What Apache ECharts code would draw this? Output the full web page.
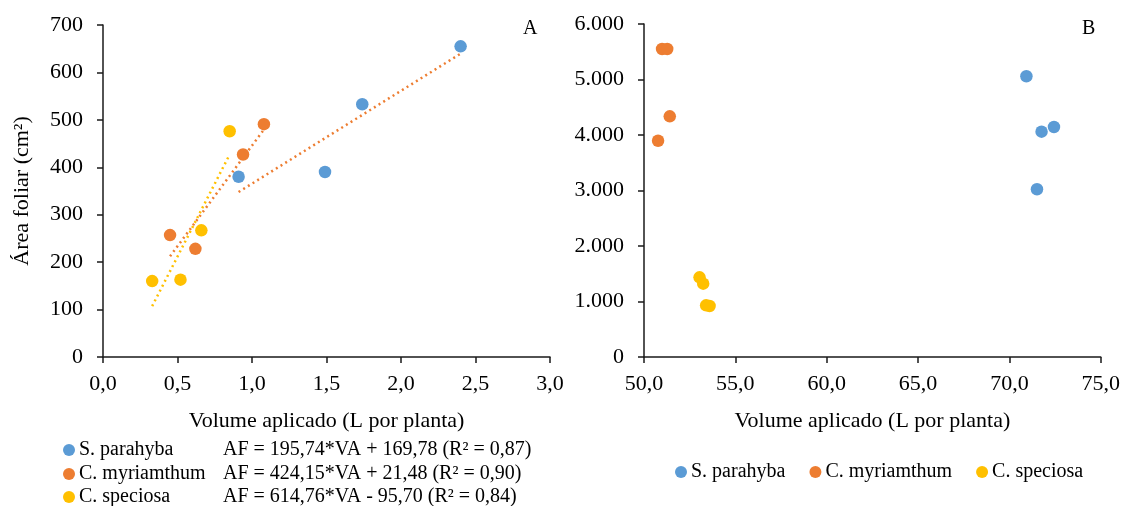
<!DOCTYPE html>
<html>
<head>
<meta charset="utf-8">
<script src="https://cdn.jsdelivr.net/npm/echarts@6/dist/echarts.min.js"></script>
<style>
  html, body { margin: 0; padding: 0; background: #fff; }
  #chart { width: 1123px; height: 506px; }
</style>
</head>
<body>
<div id="chart"></div>
<script>
// espécies e cores
const speciesNames = ['S. parahyba', 'C. myriamthum', 'C. speciosa'];
const speciesColors = ['#5B9BD5', '#ED7D31', '#FFC000'];

// painel A: volume aplicado (L por planta) x área foliar (cm²)
const aVolParahyba = [0.91, 1.49, 1.74, 2.40];
const aAreaParahyba = [380, 390, 533, 655];
const aVolMyriamthum = [0.45, 0.62, 0.94, 1.08];
const aAreaMyriamthum = [257, 228, 427, 491];
const aVolSpeciosa = [0.33, 0.52, 0.66, 0.85];
const aAreaSpeciosa = [160, 163, 267, 476];

// regressões lineares do painel A
const trendSlope = [195.74, 424.15, 614.76];
const trendIntercept = [169.78, 21.48, -95.70];
const trendColors = ['#ED7D31', '#ED7D31', '#FFC000'];
const trendText = [
  'AF = 195,74*VA + 169,78 (R² = 0,87)',
  'AF = 424,15*VA + 21,48 (R² = 0,90)',
  'AF = 614,76*VA - 95,70 (R² = 0,84)'
];

// painel B
const bVolParahyba = [70.93, 71.76, 72.44, 71.51];
const bAreaParahyba = [5058, 4060, 4144, 3022];
const bVolMyriamthum = [50.77, 50.99, 51.27, 51.41];
const bAreaMyriamthum = [3897, 5550, 5550, 4337];
const bVolSpeciosa = [53.04, 53.24, 53.40, 53.59];
const bAreaSpeciosa = [1436, 1321, 931, 919];

// eixos (min, max, intervalo)
const aXTicks = [0, 3, 0.5];
const aYTicks = [0, 700, 100];
const bXTicks = [50, 75, 5];
const bYTicks = [0, 6000, 1000];

const FONT = '"Liberation Serif", "Times New Roman", serif';
const AXIS_COLOR = '#1a1a1a';

function pairs(xs, ys) {
  return xs.map((x, i) => [x, ys[i]]);
}

function decimalComma(v) {
  return v.toFixed(1).replace('.', ',');
}

function thousandDot(v) {
  if (v < 1000) return String(v);
  let s = String(Math.round(v));
  return s.slice(0, s.length - 3) + '.' + s.slice(s.length - 3);
}

function makeAxis(ticks, grid, formatter, margin, name, nameGap) {
  return {
    type: 'value',
    gridIndex: grid,
    min: ticks[0],
    max: ticks[1],
    interval: ticks[2],
    name: name,
    nameLocation: 'middle',
    nameGap: nameGap,
    nameTextStyle: { fontFamily: FONT, fontSize: 22, color: '#000' },
    axisLine: { show: true, onZero: false, lineStyle: { color: AXIS_COLOR, width: 1.5 } },
    axisTick: { show: true, length: 6, lineStyle: { color: AXIS_COLOR, width: 1.5 } },
    axisLabel: { fontFamily: FONT, fontSize: 22, color: '#000', margin: margin, formatter: formatter },
    splitLine: { show: false }
  };
}

function makeLegend(names, left, top, orient) {
  return {
    orient: orient, left: left, top: top, padding: 0, itemGap: 24,
    icon: 'circle', itemWidth: 12, itemHeight: 12,
    data: names,
    textStyle: { fontFamily: FONT, fontSize: 20, color: '#000', padding: [0, 0, 0, -1] },
    selectedMode: false
  };
}

const aData = [
  pairs(aVolParahyba, aAreaParahyba),
  pairs(aVolMyriamthum, aAreaMyriamthum),
  pairs(aVolSpeciosa, aAreaSpeciosa)
];
const bData = [
  pairs(bVolParahyba, bAreaParahyba),
  pairs(bVolMyriamthum, bAreaMyriamthum),
  pairs(bVolSpeciosa, bAreaSpeciosa)
];

let series = [];
// linhas de tendência: do menor ao maior volume de cada espécie
aData.forEach((pts, i) => {
  const xs = pts.map(p => p[0]);
  const x0 = Math.min(...xs), x1 = Math.max(...xs);
  series.push({
    type: 'line',
    xAxisIndex: 0, yAxisIndex: 0,
    data: [[x0, trendSlope[i] * x0 + trendIntercept[i]], [x1, trendSlope[i] * x1 + trendIntercept[i]]],
    symbol: 'none',
    silent: true,
    lineStyle: { color: trendColors[i], width: 2.5, type: [2, 3.5] },
    z: 1
  });
});
speciesNames.forEach((name, i) => {
  series.push({
    name: name, type: 'scatter', xAxisIndex: 0, yAxisIndex: 0,
    data: aData[i], symbolSize: 12.5,
    itemStyle: { color: speciesColors[i], opacity: 1 }, z: 3
  });
  series.push({
    name: name, type: 'scatter', xAxisIndex: 1, yAxisIndex: 1,
    data: bData[i], symbolSize: 12.5,
    itemStyle: { color: speciesColors[i], opacity: 1 }, z: 3
  });
});

// legenda A: uma linha por espécie, com a equação ao lado
const legendRowsA = [440, 464, 487];
let legends = speciesNames.map((name, i) => makeLegend([name], 63, legendRowsA[i], 'vertical'));
legends.push(makeLegend(speciesNames, 675, 462, 'horizontal'));

const chart = echarts.init(document.getElementById('chart'), null, { renderer: 'canvas' });
chart.setOption({
  backgroundColor: '#fff',
  animation: false,
  grid: [
    { left: 103, right: 573, top: 25, bottom: 149 },
    { left: 644, right: 21, top: 24, bottom: 149 }
  ],
  xAxis: [
    makeAxis(aXTicks, 0, decimalComma, 16, 'Volume aplicado (L por planta)', 53),
    makeAxis(bXTicks, 1, decimalComma, 16, 'Volume aplicado (L por planta)', 53)
  ],
  yAxis: [
    makeAxis(aYTicks, 0, v => String(v), 20, 'Área foliar (cm²)', 70),
    makeAxis(bYTicks, 1, thousandDot, 20, '', 0)
  ],
  legend: legends,
  graphic: [
    { type: 'text', left: 523, top: 19, style: { text: 'A', font: '20px ' + FONT, fill: '#000' } },
    { type: 'text', left: 1082, top: 19, style: { text: 'B', font: '20px ' + FONT, fill: '#000' } }
  ].concat(trendText.map((t, i) => ({
    type: 'text', left: 223, top: legendRowsA[i],
    style: { text: t, font: '20px ' + FONT, fill: '#000' }
  }))),
  series: series
});
</script>
</body>
</html>
